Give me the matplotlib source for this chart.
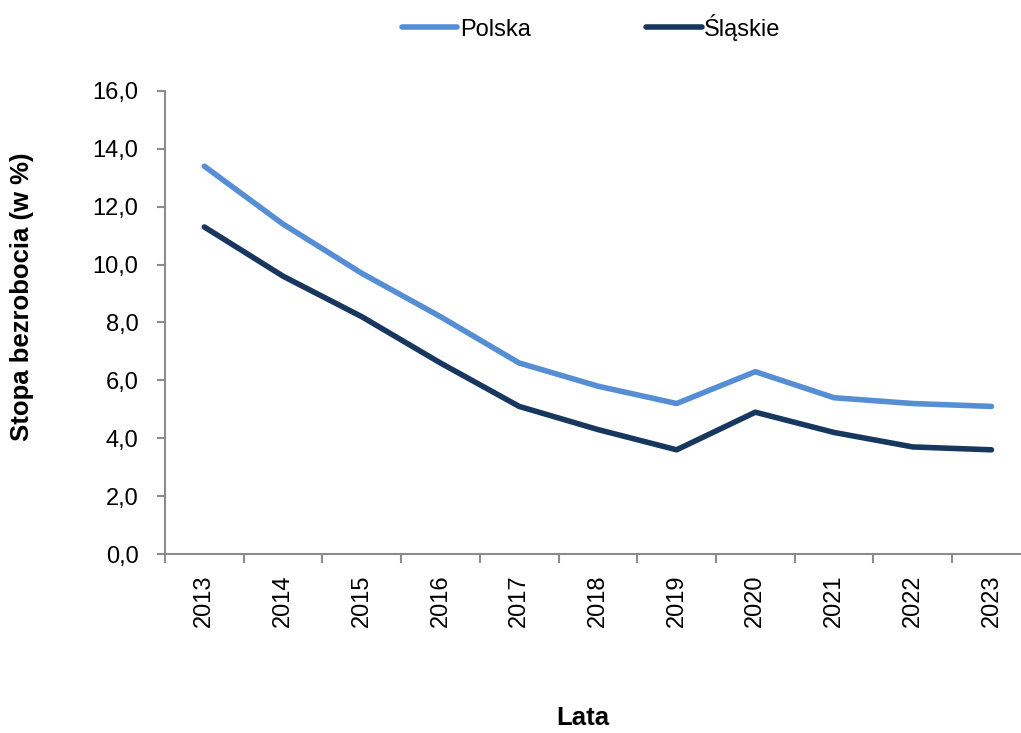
import matplotlib.pyplot as plt
from matplotlib.ticker import FixedLocator, FuncFormatter

plt.rcParams['font.family'] = ['Liberation Sans', 'DejaVu Sans']

lata = ['2013', '2014', '2015', '2016', '2017', '2018', '2019', '2020', '2021', '2022', '2023']
polska = [13.4, 11.4, 9.7, 8.2, 6.6, 5.8, 5.2, 6.3, 5.4, 5.2, 5.1]
slaskie = [11.3, 9.6, 8.2, 6.6, 5.1, 4.3, 3.6, 4.9, 4.2, 3.7, 3.6]

fig = plt.figure(figsize=(10.21, 7.33), dpi=100)
ax = fig.add_axes([0.1616, 0.2442, 0.848, 0.6317])

x = list(range(len(lata)))
ax.plot(x, polska, color='#558ED5', lw=4, label='Polska', solid_capstyle='round')
ax.plot(x, slaskie, color='#17375E', lw=4, label='Śląskie', solid_capstyle='round')

ax.set_xlim(-0.5, len(lata) - 0.5)
ax.set_ylim(0, 16)
ax.set_yticks([0, 2, 4, 6, 8, 10, 12, 14, 16])
ax.yaxis.set_major_formatter(FuncFormatter(lambda v, p: f'{v:.1f}'.replace('.', ',')))
ax.set_xticks(x)
ax.set_xticklabels(lata, rotation=90)
ax.xaxis.set_minor_locator(FixedLocator([i - 0.5 for i in range(len(lata) + 1)]))

for s in ['top', 'right']:
    ax.spines[s].set_visible(False)
for s in ['left', 'bottom']:
    ax.spines[s].set_color('#8c8c8c')
    ax.spines[s].set_linewidth(1.5)

ax.tick_params(axis='y', length=6, width=1.5, color='#8c8c8c', labelsize=17, pad=13)
ax.tick_params(axis='x', which='major', length=0, labelsize=17, pad=15)
ax.tick_params(axis='x', which='minor', length=6.5, width=1.5, color='#8c8c8c')

fig.text(0.022, 0.595, 'Stopa bezrobocia (w %)', rotation=90, ha='center', va='center',
         fontsize=18.5, fontweight='bold')
fig.text(0.571, 0.0205, 'Lata', ha='center', va='center',
         fontsize=18.5, fontweight='bold')

fig.legend(loc='center', bbox_to_anchor=(0.579, 0.963), ncol=2, frameon=False,
           fontsize=17, handlelength=2.35, handletextpad=0.1, columnspacing=4.9)

fig.savefig('out.png', dpi=100)
